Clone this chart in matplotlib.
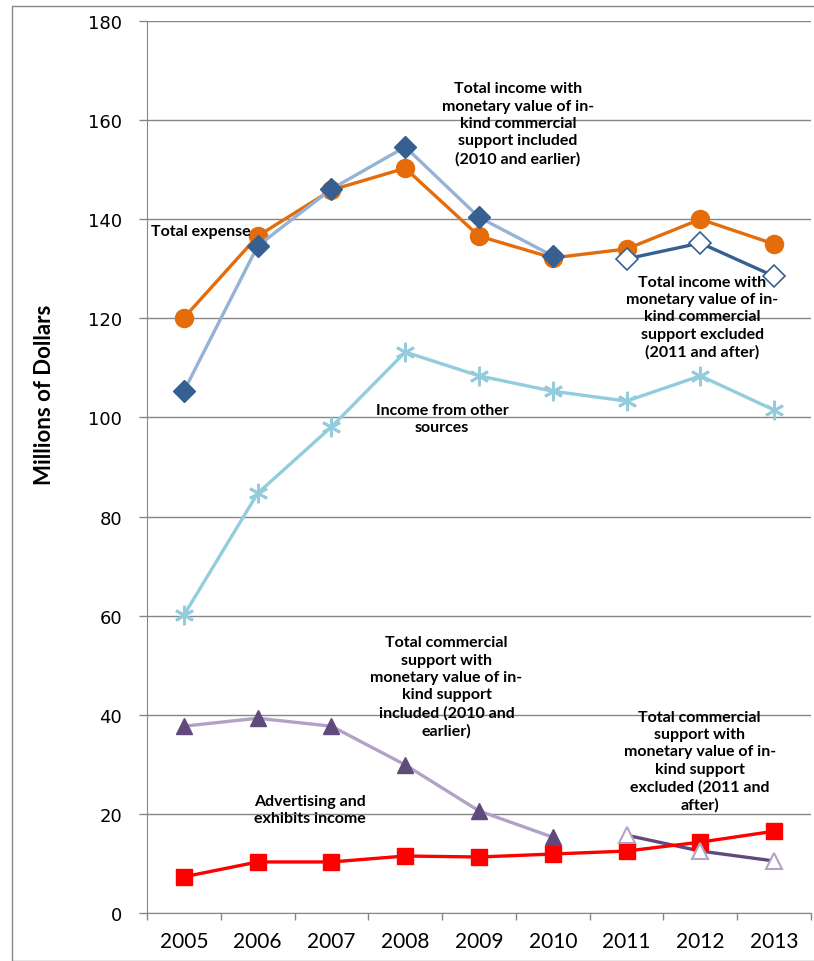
import numpy as np
import matplotlib
matplotlib.use("Agg")
import matplotlib.pyplot as plt
from matplotlib.patches import Rectangle

years = ["2005", "2006", "2007", "2008", "2009", "2010", "2011", "2012", "2013"]

total_expense = [120.1, 136.6, 145.9, 150.3, 136.6, 132.2, 134.0, 140.0, 135.0]
income_incl = [105.3, 134.6, 146.1, 154.6, 140.4, 132.6]          # 2005-2010
income_excl = [132.0, 135.2, 128.5]                                # 2011-2013
income_other = [60.1, 84.7, 98.1, 113.2, 108.4, 105.3, 103.3, 108.4, 101.5]
comm_incl = [37.7, 39.3, 37.7, 29.9, 20.6, 15.3]                   # 2005-2010
comm_excl = [15.7, 12.5, 10.5]                                     # 2011-2013
advertising = [7.3, 10.3, 10.3, 11.5, 11.3, 11.9, 12.5, 14.3, 16.5]

yticks = list(range(0, 181, 20))

label_font = ["Lato", "DejaVu Sans"]

fig = plt.figure(figsize=(8.14, 9.62), dpi=100)
ax = fig.add_axes([0.1806, 0.0499, 0.8157, 0.9272])

x = np.arange(len(years))
x_incl = x[:6]
x_excl = x[6:]

lw = 2.4
ax.plot(x, income_other, color="#93CDDD", lw=lw, marker=(6, 2, 0), ms=14,
        mew=2, mec="#93CDDD", zorder=3)
ax.plot(x_incl, income_incl, color="#95B3D7", lw=lw, marker="D", ms=11,
        mfc="#376092", mec="#376092", zorder=4)
ax.plot(x_excl, income_excl, color="#376092", lw=lw, zorder=4)
ax.plot(x_excl, income_excl, ls="none", marker="D", ms=11, mfc="white",
        mec="#376092", mew=1.2, zorder=5)
ax.plot(x, total_expense, color="#E46C0A", lw=lw, marker="o", ms=13,
        mfc="#E46C0A", mec="#E46C0A", zorder=3)
ax.plot(x_incl, comm_incl, color="#B3A2C7", lw=lw, marker="^", ms=12,
        mfc="#604A7B", mec="#604A7B", zorder=3)
ax.plot(x_excl, comm_excl, color="#604A7B", lw=lw, zorder=3)
ax.plot(x_excl, comm_excl, ls="none", marker="^", ms=12, mfc="white",
        mec="#B3A2C7", mew=1.5, zorder=5)
ax.plot(x, advertising, color="#FF0000", lw=lw, marker="s", ms=11,
        mfc="#FF0000", mec="#FF0000", zorder=4)

ax.set_xlim(-0.5, len(years) - 0.5)
ax.set_ylim(0, 180)
ax.set_yticks(yticks)
ax.set_xticks(x)
ax.set_xticklabels(years)
ax.set_xticks(np.arange(-0.5, len(years)), minor=True)
ax.tick_params(axis="x", which="major", length=0, pad=13, labelsize=15)
ax.tick_params(axis="x", which="minor", length=5, color="#868686", width=1)
ax.tick_params(axis="y", length=6, color="#868686", width=1, labelsize=13, pad=12)
for lab in ax.get_xticklabels():
    lab.set_family(label_font)
for lab in ax.get_yticklabels():
    lab.set_family(["DejaVu Sans"])

ax.grid(axis="y", color="#868686", lw=1)
ax.set_axisbelow(True)
for s in ["top", "right"]:
    ax.spines[s].set_visible(False)
ax.spines["left"].set_color("#868686")
ax.spines["bottom"].set_color("#868686")

ax.set_ylabel("Millions of Dollars", fontsize=16, fontweight="bold",
              family=label_font)
ax.yaxis.set_label_coords(-0.138, 0.582)

tk = dict(fontsize=11.5, fontweight="bold", family=label_font, ha="center",
          va="top", linespacing=1.3, zorder=6)
ax.text(4.53, 167.8, "Total income with\nmonetary value of in-\nkind commercial\nsupport included\n(2010 and earlier)", **tk)
ax.text(-0.45, 137.6, "Total expense", fontsize=11.5, fontweight="bold",
        family=label_font, ha="left", va="center", zorder=6)
ax.text(7.03, 128.8, "Total income with\nmonetary value of in-\nkind commercial\nsupport excluded\n(2011 and after)", **tk)
ax.text(3.5, 103.0, "Income from other\nsources", **tk)
ax.text(3.56, 56.0, "Total commercial\nsupport with\nmonetary value of in-\nkind support\nincluded (2010 and\nearlier)", **tk)
ax.text(1.71, 24.0, "Advertising and\nexhibits income", **tk)
ax.text(6.99, 41.0, "Total commercial\nsupport with\nmonetary value of in-\nkind support\nexcluded (2011 and\nafter)", **tk)

fig.patches.append(Rectangle((12 / 814, 0.0), 1.2, 1 - 7 / 962,
                             transform=fig.transFigure, fill=False,
                             edgecolor="#868686", lw=1))

fig.savefig("out.png", dpi=100)
